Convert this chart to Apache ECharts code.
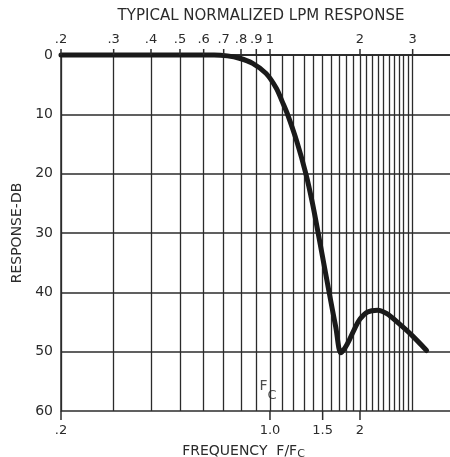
<!DOCTYPE html>
<html>
<head>
<meta charset="utf-8">
<script src="https://cdn.jsdelivr.net/npm/echarts@6/dist/echarts.min.js"></script>
<style>
  html, body { margin: 0; padding: 0; background: #fff; }
  #chart { width: 450px; height: 457px; }
</style>
</head>
<body>
<div id="chart"></div>
<script>
// Normalized frequency (F/Fc) and attenuation in dB of the low-pass response
const freq = [0.2, 0.5, 0.65, 0.72, 0.79, 0.875, 0.97, 1.05, 1.1, 1.145, 1.23, 1.318, 1.387,
  1.449, 1.577, 1.66, 1.725, 1.78, 1.84, 1.92, 2.0, 2.12, 2.29, 2.46, 2.69, 2.99, 3.34];
const responseDb = [0, 0, 0, 0.15, 0.55, 1.4, 3.1, 5.6, 7.9, 10.0, 14.6, 20.0, 25.0,
  30.0, 40.0, 45.9, 50.2, 49.4, 48.1, 46.1, 44.5, 43.3, 43.0, 43.6, 45.2, 47.3, 49.8];

// Log-paper rulings (vertical lines)
const gridFreqs = [0.2, 0.3, 0.4, 0.5, 0.6, 0.7, 0.8, 0.9, 1.0, 1.1, 1.2, 1.3, 1.4, 1.5,
  1.6, 1.7, 1.8, 1.9, 2.0, 2.1, 2.2, 2.3, 2.4, 2.5, 2.6, 2.7, 2.8, 2.9, 3.0];

// Top scale
const topTickValues = [0.2, 0.3, 0.4, 0.5, 0.6, 0.7, 0.8, 0.9, 1, 2, 3];
const topTickLabels = ['.2', '.3', '.4', '.5', '.6', '.7', '.8', '.9', '1', '2', '3'];

// Bottom scale
const bottomTickValues = [0.2, 1.0, 1.5, 2];
const bottomTickLabels = ['.2', '1.0', '1.5', '2'];

// Response axis
const dbMin = 0, dbMax = 60, dbStep = 10;

// Cutoff-frequency annotation
const cutoffNote = { f: 0.985, db: 56.6 };

const INK = '#2b2b2b';
const FONT = 'DejaVu Sans';
const TOP_TICK_LEN = 6;
const BOTTOM_TICK_LEN = 9;

function labelFor(values, labels) {
  return function (v) {
    for (let i = 0; i < values.length; i++) {
      if (Math.abs(values[i] - v) < 1e-6 * Math.max(1, values[i])) return labels[i];
    }
    return '';
  };
}

const curve = freq.map((f, i) => [f, responseDb[i]]);

const chart = echarts.init(document.getElementById('chart'), null, { renderer: 'canvas' });

chart.setOption({
  backgroundColor: '#ffffff',
  animation: false,
  title: {
    text: 'TYPICAL NORMALIZED LPM RESPONSE',
    left: 256,
    top: 4,
    textAlign: 'center',
    textStyle: { fontFamily: FONT, fontSize: 15, fontWeight: 'normal', color: INK }
  },
  grid: { left: 61, right: 0, top: 55, bottom: 46, containLabel: false, outerBoundsMode: 'none' },
  xAxis: [
    {
      type: 'log',
      logBase: 10,
      min: 0.2,
      max: 4,
      position: 'bottom',
      name: '{t|FREQUENCY  F/F}{s|C}',
      nameLocation: 'middle',
      nameGap: 32,
      nameTextStyle: {
        padding: [0, 24, 0, 0],
        rich: {
          t: { fontFamily: FONT, fontSize: 14, color: INK },
          s: { fontFamily: FONT, fontSize: 11, color: INK, verticalAlign: 'bottom', padding: [6, 0, 0, 0] }
        }
      },
      axisLine: { show: true, lineStyle: { color: INK, width: 1.5 } },
      axisTick: { show: false },
      axisLabel: {
        customValues: bottomTickValues,
        formatter: labelFor(bottomTickValues, bottomTickLabels),
        margin: 13,
        fontFamily: FONT, fontSize: 13, color: INK
      },
      splitLine: { show: false },
      minorTick: { show: false },
      minorSplitLine: { show: false }
    },
    {
      type: 'log',
      logBase: 10,
      min: 0.2,
      max: 4,
      position: 'top',
      axisLine: { show: true, lineStyle: { color: INK, width: 1.5 } },
      axisTick: { show: false },
      axisLabel: {
        customValues: topTickValues,
        formatter: labelFor(topTickValues, topTickLabels),
        margin: 9,
        fontFamily: FONT, fontSize: 13, color: INK
      },
      splitLine: { show: false }
    }
  ],
  yAxis: {
    type: 'value',
    inverse: true,
    min: dbMin,
    max: dbMax,
    interval: dbStep,
    name: 'RESPONSE-DB',
    nameLocation: 'middle',
    nameRotate: 90,
    nameGap: 37,
    nameTextStyle: { fontFamily: FONT, fontSize: 14, color: INK },
    axisLine: { show: true, lineStyle: { color: INK, width: 1.5 } },
    axisTick: { show: false },
    axisLabel: { margin: 8, fontFamily: FONT, fontSize: 14, color: INK },
    splitLine: { show: true, lineStyle: { color: INK, width: 1.5 } }
  },
  series: [
    {
      // vertical rulings of the log paper
      type: 'line',
      data: [],
      silent: true,
      z: 1,
      markLine: {
        silent: true,
        symbol: 'none',
        label: { show: false },
        lineStyle: { color: INK, width: 1.3, type: 'solid' },
        emphasis: { disabled: true },
        data: gridFreqs.map(f => ({ xAxis: f }))
      }
    },
    {
      // "Fc" marker under the 1.0 ruling
      type: 'scatter',
      silent: true,
      z: 6,
      symbolSize: 0,
      data: [[cutoffNote.f, cutoffNote.db]],
      label: {
        show: true,
        position: 'inside',
        formatter: '{f|F}{c|C}',
        rich: {
          f: { fontFamily: FONT, fontSize: 14, color: '#1f1f1f', verticalAlign: 'top' },
          c: { fontFamily: FONT, fontSize: 13, color: '#1f1f1f', padding: [10, 0, 0, 0] }
        }
      },
      labelLayout: { hideOverlap: false }
    },
    {
      type: 'line',
      data: curve,
      smooth: 0.3,
      clip: false,
      showSymbol: false,
      symbol: 'none',
      z: 5,
      lineStyle: { color: '#1a1a1a', width: 5, cap: 'round', join: 'round' }
    }
  ]
});

// Scale tick marks outside the plot frame, placed through the axes' own conversion
const yTop = chart.convertToPixel({ yAxisIndex: 0 }, dbMin);
const yBottom = chart.convertToPixel({ yAxisIndex: 0 }, dbMax);
const tickMarks = [];
topTickValues.forEach(v => {
  const x = chart.convertToPixel({ xAxisIndex: 1 }, v);
  tickMarks.push({
    type: 'line', silent: true, z: 10,
    shape: { x1: x, y1: yTop, x2: x, y2: yTop - TOP_TICK_LEN },
    style: { stroke: INK, lineWidth: 1.5 }
  });
});
bottomTickValues.forEach(v => {
  const x = chart.convertToPixel({ xAxisIndex: 0 }, v);
  tickMarks.push({
    type: 'line', silent: true, z: 10,
    shape: { x1: x, y1: yBottom, x2: x, y2: yBottom + BOTTOM_TICK_LEN },
    style: { stroke: INK, lineWidth: 1.5 }
  });
});
chart.setOption({ graphic: tickMarks });
</script>
</body>
</html>
